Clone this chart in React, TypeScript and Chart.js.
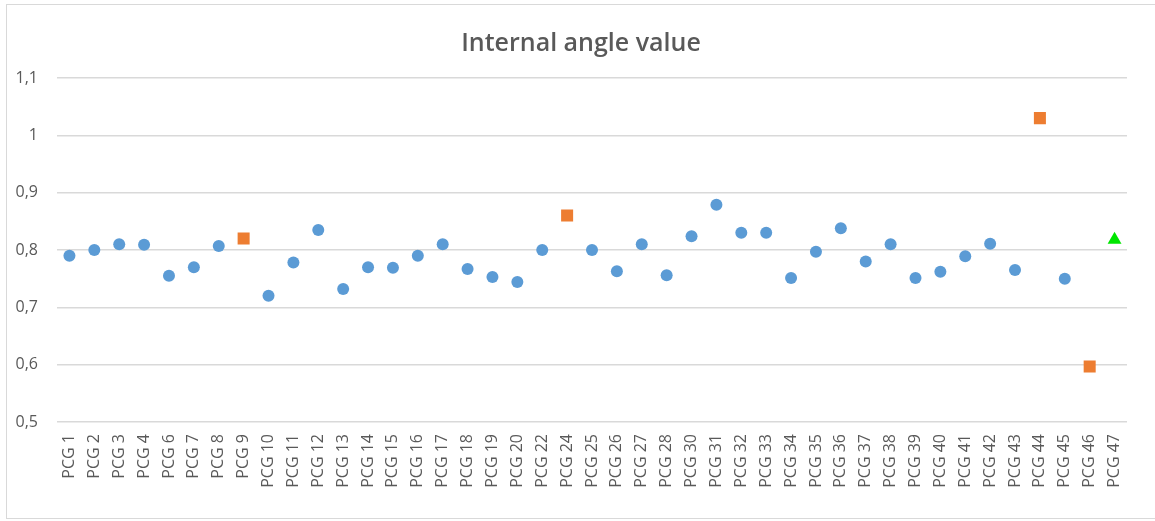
import React, { useEffect, useRef } from "react";
import { Chart, registerables } from "chart.js";

Chart.register(...registerables);

const categories = [
  "PCG 1", "PCG 2", "PCG 3", "PCG 4", "PCG 6", "PCG 7", "PCG 8", "PCG 9", "PCG 10",
  "PCG 11", "PCG 12", "PCG 13", "PCG 14", "PCG 15", "PCG 16", "PCG 17", "PCG 18",
  "PCG 19", "PCG 20", "PCG 22", "PCG 24", "PCG 25", "PCG 26", "PCG 27", "PCG 28",
  "PCG 30", "PCG 31", "PCG 32", "PCG 33", "PCG 34", "PCG 35", "PCG 36", "PCG 37",
  "PCG 38", "PCG 39", "PCG 40", "PCG 41", "PCG 42", "PCG 43", "PCG 44", "PCG 45",
  "PCG 46", "PCG 47",
];

const blueValues: (number | null)[] = [
  0.79, 0.8, 0.81, 0.809, 0.755, 0.77, 0.807, null, 0.72,
  0.778, 0.835, 0.732, 0.77, 0.769, 0.79, 0.81, 0.767,
  0.753, 0.744, 0.8, null, 0.8, 0.763, 0.81, 0.756,
  0.824, 0.879, 0.83, 0.83, 0.751, 0.797, 0.838, 0.78,
  0.81, 0.751, 0.762, 0.789, 0.811, 0.765, null, 0.75,
  null, null,
];

const orangeValues: (number | null)[] = [
  null, null, null, null, null, null, null, 0.82, null,
  null, null, null, null, null, null, null, null,
  null, null, null, 0.86, null, null, null, null,
  null, null, null, null, null, null, null, null,
  null, null, null, null, null, null, 1.03, null,
  0.597, null,
];

const greenValues: (number | null)[] = [
  null, null, null, null, null, null, null, null, null,
  null, null, null, null, null, null, null, null,
  null, null, null, null, null, null, null, null,
  null, null, null, null, null, null, null, null,
  null, null, null, null, null, null, null, null,
  null, 0.818,
];

const yTicks = [0.5, 0.6, 0.7, 0.8, 0.9, 1.0, 1.1];

const FONT = "'Open Sans', 'Noto Sans', sans-serif";
const TEXT = "#595959";

const titleShift = {
  id: "titleShift",
  afterLayout(chart: any) {
    const t = chart.titleBlock;
    if (t) {
      t.left = 29;
      t.right = chart.chartArea.right;
    }
  },
};

export default function App() {
  const ref = useRef<HTMLCanvasElement | null>(null);

  useEffect(() => {
    if (!ref.current) return;
    const chart = new Chart(ref.current, {
      type: "line",
      data: {
        labels: categories,
        datasets: [
          {
            label: "blue",
            data: blueValues,
            showLine: false,
            pointStyle: "circle",
            pointRadius: 6,
            pointBackgroundColor: "#5B9BD5",
            pointBorderColor: "#5B9BD5",
            pointBorderWidth: 0,
            borderColor: "#5B9BD5",
          },
          {
            label: "orange",
            data: orangeValues,
            showLine: false,
            pointStyle: "rect",
            pointRadius: 8.5,
            pointBackgroundColor: "#ED7D31",
            pointBorderColor: "#E8742A",
            pointBorderWidth: 0,
            borderColor: "#ED7D31",
          },
          {
            label: "green",
            data: greenValues,
            showLine: false,
            pointStyle: "triangle",
            pointRadius: 8,
            pointBackgroundColor: "#00E600",
            pointBorderColor: "#00E600",
            pointBorderWidth: 0,
            borderColor: "#00E600",
          },
        ],
      },
      options: {
        animation: false,
        responsive: true,
        maintainAspectRatio: false,
        layout: { padding: { left: 0, right: 28, top: 0, bottom: 0 } },
        plugins: {
          legend: { display: false },
          tooltip: { enabled: false },
          title: {
            display: true,
            text: "Internal angle value",
            color: TEXT,
            font: { family: FONT, size: 25, weight: "600" },
            padding: { top: 25, bottom: 19 },
          },
        },
        scales: {
          x: {
            type: "category",
            offset: true,
            grid: { display: false, drawTicks: false },
            border: { display: false },
            ticks: {
              color: TEXT,
              font: { family: FONT, size: 16 },
              minRotation: 90,
              maxRotation: 90,
              autoSkip: false,
              padding: 12,
            },
            afterFit: (scale: any) => {
              scale.height = 98;
            },
          },
          y: {
            min: 0.5,
            max: 1.1,
            grid: { color: "#d9d9d9", lineWidth: 1.5, drawTicks: false },
            border: { display: false },
            afterBuildTicks: (scale: any) => {
              scale.ticks = yTicks.map((v) => ({ value: v }));
            },
            ticks: {
              color: TEXT,
              font: { family: FONT, size: 16 },
              padding: 19,
              callback: (v: any) => String(Number(Number(v).toFixed(1))).replace(".", ","),
            },
            afterFit: (scale: any) => {
              scale.width = 51;
            },
          },
        },
      },
      plugins: [titleShift],
    } as any);
    return () => chart.destroy();
  }, []);

  return (
    <div style={{ position: "fixed", left: 0, top: 0, width: 1155, height: 521, background: "#fff", overflow: "hidden" }}>
      <div
        style={{
          position: "absolute",
          left: 6,
          top: 4,
          width: 1170,
          height: 515,
          border: "1px solid #d9d9d9",
          boxSizing: "border-box",
        }}
      />
      <div style={{ position: "absolute", left: 6, top: 4, width: 1149, height: 516 }}>
        <canvas ref={ref} />
      </div>
    </div>
  );
}
